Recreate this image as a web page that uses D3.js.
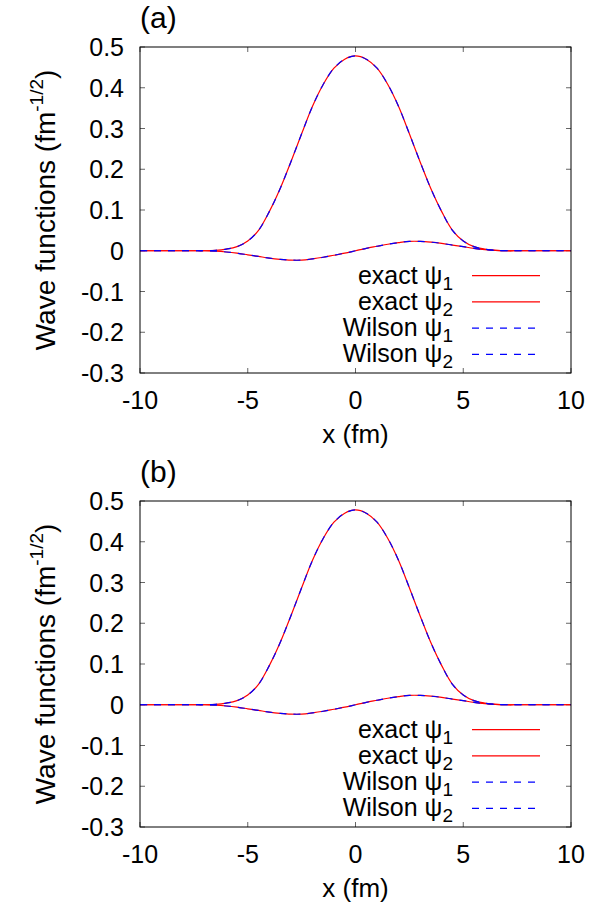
<!DOCTYPE html>
<html>
<head>
<meta charset="utf-8">
<script src="https://cdn.jsdelivr.net/npm/d3@7"></script>
<style>
  html, body { margin: 0; padding: 0; background: #fff; }
  svg { display: block; font-family: "Liberation Sans", Arial, Helvetica, sans-serif; }
</style>
</head>
<body>
<svg id="chart" width="602" height="905"></svg>
<script>
// ---------------- data ----------------
const xValues = d3.range(41).map(i => -10 + i * 0.5);
const psi1Exact = [0,0,0,0,0,0,0,0.001,0.004,0.010,0.024,0.050,0.096,0.152,0.218,0.287,0.354,0.408,0.448,0.470,0.478,
                   0.470,0.448,0.408,0.354,0.287,0.218,0.152,0.096,0.050,0.024,0.010,0.004,0.001,0,0,0,0,0,0,0];
const psi2Exact = [0,0,0,0,0,0,0,-0.001,-0.003,-0.006,-0.010,-0.014,-0.018,-0.021,-0.023,-0.023,-0.020,-0.016,-0.011,-0.006,0,
                   0.006,0.011,0.016,0.020,0.023,0.023,0.021,0.018,0.014,0.010,0.006,0.003,0.001,0,0,0,0,0,0,0];
const psi1Wilson = psi1Exact.slice();
const psi2Wilson = psi2Exact.slice();
const xTicks = [-10, -5, 0, 5, 10];
const yTicks = [-0.3, -0.2, -0.1, 0, 0.1, 0.2, 0.3, 0.4, 0.5];
const panelLabels = ["(a)", "(b)"];
const legendNames = [["exact ", "1"], ["exact ", "2"], ["Wilson ", "1"], ["Wilson ", "2"]];

// ---------------- layout ----------------
const svg = d3.select("#chart");
const L = 140, R = 571, T0 = 47, H = 326;
const panelOffset = 454;
const FS = 25;

const x = d3.scaleLinear().domain([-10, 10]).range([L, R]);

panelLabels.forEach((lab, p) => {
  const top = T0 + p * panelOffset;
  const y = d3.scaleLinear().domain([-0.3, 0.5]).range([top + H, top]);
  const g = svg.append("g");

  const clipId = "clip" + p;
  g.append("clipPath").attr("id", clipId).append("rect")
    .attr("x", L).attr("y", top).attr("width", R - L).attr("height", H);

  // ticks (inward, mirrored)
  const tk = 5;
  xTicks.forEach(v => {
    g.append("line").attr("x1", x(v)).attr("x2", x(v)).attr("y1", top + H).attr("y2", top + H - tk)
      .attr("stroke", "#666").attr("stroke-width", 1);
    g.append("line").attr("x1", x(v)).attr("x2", x(v)).attr("y1", top).attr("y2", top + tk)
      .attr("stroke", "#666").attr("stroke-width", 1);
    g.append("text").attr("x", x(v)).attr("y", top + H + 36)
      .attr("text-anchor", "middle").attr("font-size", FS).text(String(v));
  });
  yTicks.forEach(v => {
    g.append("line").attr("x1", L).attr("x2", L + tk).attr("y1", y(v)).attr("y2", y(v))
      .attr("stroke", "#666").attr("stroke-width", 1);
    g.append("line").attr("x1", R).attr("x2", R - tk).attr("y1", y(v)).attr("y2", y(v))
      .attr("stroke", "#666").attr("stroke-width", 1);
    const s = (Math.abs(v) < 1e-9) ? "0" : v.toFixed(1);
    g.append("text").attr("x", 124).attr("y", y(v) + 9)
      .attr("text-anchor", "end").attr("font-size", FS).text(s);
  });

  // curves
  const line = d3.line().x(d => x(d[0])).y(d => y(d[1])).curve(d3.curveCatmullRom.alpha(0.5));
  const cg = g.append("g").attr("clip-path", `url(#${clipId})`);
  const series = [
    {vals: psi1Exact, color: "#ff0000", dash: null},
    {vals: psi2Exact, color: "#ff0000", dash: null},
    {vals: psi1Wilson, color: "#0000ff", dash: "7,7"},
    {vals: psi2Wilson, color: "#0000ff", dash: "7,7"}
  ];
  series.forEach(s => {
    cg.append("path").datum(xValues.map((xv, i) => [xv, s.vals[i]]))
      .attr("d", line).attr("fill", "none").attr("stroke", s.color)
      .attr("stroke-width", 1.2).attr("stroke-dasharray", s.dash);
  });

  // frame
  g.append("rect").attr("x", L).attr("y", top).attr("width", R - L).attr("height", H)
    .attr("fill", "none").attr("stroke", "#000").attr("stroke-width", 1);

  // legend
  legendNames.forEach((nm, i) => {
    const ly = top + 228.7 + i * 26.2;
    const t = g.append("text").attr("x", 453).attr("y", ly + 8)
      .attr("text-anchor", "end").attr("font-size", FS);
    t.append("tspan").text(nm[0] + "\u03c8");
    t.append("tspan").attr("font-size", 19).attr("dy", 6).text(nm[1]);
    const s = series[i];
    g.append("line").attr("x1", 472).attr("x2", 540).attr("y1", ly).attr("y2", ly)
      .attr("stroke", s.color).attr("stroke-width", 1.2).attr("stroke-dasharray", s.dash);
  });

  // panel label
  g.append("text").attr("x", 140).attr("y", top - 19).attr("font-size", 30).text(lab);

  // x label
  g.append("text").attr("x", (L + R) / 2).attr("y", top + H + 70)
    .attr("text-anchor", "middle").attr("font-size", 26).text("x (fm)");

  // y label
  const yl = g.append("text")
    .attr("transform", `translate(55,${top + 163}) rotate(-90)`)
    .attr("text-anchor", "middle").attr("font-size", 28);
  yl.append("tspan").text("Wave functions (fm");
  yl.append("tspan").attr("font-size", 19).attr("dy", -12).text("-1/2");
  yl.append("tspan").attr("dy", 12).text(")");
});
</script>
</body>
</html>
